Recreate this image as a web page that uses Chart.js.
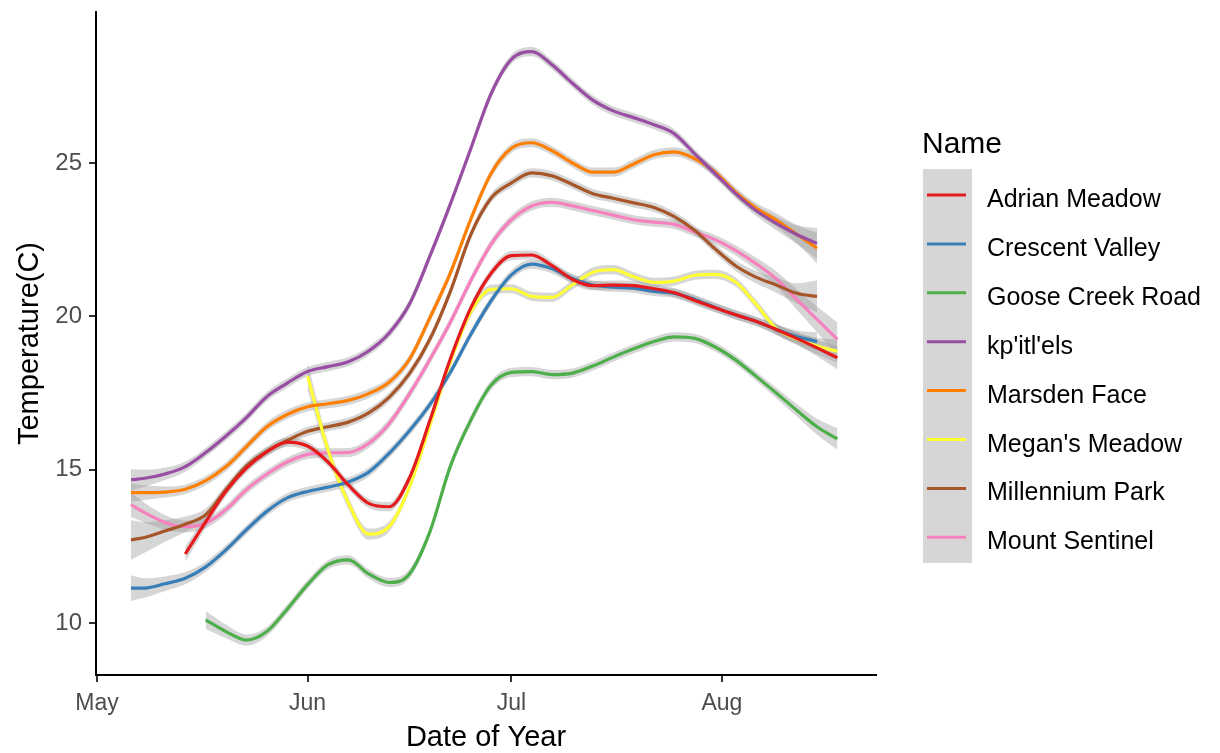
<!DOCTYPE html>
<html>
<head>
<meta charset="utf-8">
<script src="https://cdn.jsdelivr.net/npm/chart.js@4.4.1/dist/chart.umd.min.js"></script>
<style>
  html, body { margin: 0; padding: 0; background: #fff; }
  #wrap { width: 1220px; height: 753px; }
</style>
</head>
<body>
<div id="wrap"><canvas id="chart" width="1220" height="753"></canvas></div>
<script>
// x = days since May 1
const days = [5, 7, 10, 13, 16, 19,
  22, 25, 28, 31, 34, 37,
  40, 43, 46, 49, 52, 55,
  58, 61, 64, 67, 70, 73,
  76, 79, 82, 85, 88, 91,
  94, 97, 100, 103, 106, 109];

const xTickDays = [0, 31, 61, 92];
const xTickLabels = ["May", "Jun", "Jul", "Aug"];
const yTicks = [10, 15, 20, 25];

const siteNames = ["Adrian Meadow", "Crescent Valley", "Goose Creek Road", "kp'itl'els",
  "Marsden Face", "Megan's Meadow", "Millennium Park", "Mount Sentinel"];
const siteColors = ["#E41A1C", "#377EB8", "#4DAF4A", "#984EA3",
  "#FF7F00", "#FFFF33", "#A65628", "#F781BF"];

// smoothed temperature (C)
const adrianMeadow = [null, null, null, 12.25, 13.3, 14.3,
  15.05, 15.58, 15.9, 15.77, 15.25, 14.5,
  13.9, 13.79, 14.73, 16.6, 18.6, 20.26,
  21.4, 21.98, 22.0, 21.65, 21.2, 21.0,
  21.02, 21.0, 20.9, 20.77, 20.52, 20.28,
  20.05, 19.84, 19.57, 19.28, 18.97, 18.65];
const crescentValley = [11.14, 11.14, 11.28, 11.46, 11.83, 12.39,
  13.04, 13.64, 14.08, 14.29, 14.43, 14.6,
  14.92, 15.53, 16.27, 17.12, 18.17, 19.4,
  20.5, 21.35, 21.7, 21.55, 21.23, 21.02,
  20.95, 20.92, 20.81, 20.75, 20.55, 20.29,
  20.05, 19.84, 19.57, 19.34, 19.18, null];
const gooseCreekRoad = [null, null, null, null, 10.1, 9.72,
  9.44, 9.72, 10.45, 11.25, 11.9, 12.06,
  11.6, 11.32, 11.6, 12.97, 15.1, 16.6,
  17.75, 18.17, 18.2, 18.1, 18.15, 18.38,
  18.67, 18.94, 19.18, 19.33, 19.28, 19.0,
  18.58, 18.05, 17.5, 16.94, 16.4, 16.0];
const kpitlels = [14.67, 14.72, 14.86, 15.1, 15.56, 16.1,
  16.7, 17.38, 17.82, 18.2, 18.36, 18.52,
  18.87, 19.45, 20.4, 21.96, 23.65, 25.45,
  27.25, 28.38, 28.63, 28.2, 27.6, 27.05,
  26.7, 26.48, 26.25, 25.95, 25.3, 24.65,
  24.0, 23.45, 23.03, 22.67, 22.38, null];
const marsdenFace = [14.25, 14.25, 14.27, 14.36, 14.64, 15.1,
  15.75, 16.4, 16.8, 17.05, 17.15, 17.26,
  17.48, 17.85, 18.6, 19.95, 21.4, 23.15,
  24.65, 25.48, 25.66, 25.4, 25.0, 24.7,
  24.7, 24.97, 25.27, 25.36, 25.14, 24.7,
  24.05, 23.53, 23.14, 22.68, 22.22, null];
const megansMeadow = [null, null, null, null, null, null,
  null, null, null, 18.05, 15.65, 13.92,
  12.9, 13.14, 14.43, 16.44, 18.5, 20.13,
  20.88, 20.9, 20.65, 20.62, 21.03, 21.44,
  21.52, 21.29, 21.11, 21.15, 21.34, 21.37,
  21.12, 20.4, 19.6, 19.27, 19.03, 18.86];
const millenniumPark = [12.71, 12.79, 13.0, 13.22, 13.53, 14.35,
  15.12, 15.6, 15.95, 16.25, 16.4, 16.55,
  16.85, 17.36, 18.13, 19.25, 20.8, 22.65,
  23.85, 24.35, 24.68, 24.58, 24.3, 24.0,
  23.85, 23.7, 23.55, 23.25, 22.8, 22.2,
  21.65, 21.28, 21.02, 20.75, 20.65, null];
const mountSentinel = [13.86, 13.6, 13.28, 13.14, 13.25, 13.7,
  14.35, 14.85, 15.25, 15.5, 15.55, 15.56,
  15.86, 16.5, 17.47, 18.59, 19.8, 21.15,
  22.35, 23.15, 23.6, 23.72, 23.6, 23.45,
  23.3, 23.15, 23.07, 23.0, 22.75, 22.5,
  22.15, 21.72, 21.22, 20.55, 19.9, 19.25];

// half width of the grey confidence band (C)
const seAdrianMeadow = [null, null, null, 0.25, 0.2, 0.17,
  0.15, 0.15, 0.15, 0.15, 0.15, 0.15,
  0.15, 0.15, 0.15, 0.15, 0.15, 0.15,
  0.15, 0.15, 0.15, 0.15, 0.15, 0.15,
  0.15, 0.15, 0.15, 0.15, 0.15, 0.15,
  0.15, 0.15, 0.17, 0.2, 0.27, 0.38];
const seCrescentValley = [0.42, 0.32, 0.24, 0.2, 0.17, 0.15,
  0.15, 0.15, 0.15, 0.15, 0.15, 0.15,
  0.15, 0.15, 0.15, 0.15, 0.15, 0.15,
  0.15, 0.15, 0.15, 0.15, 0.15, 0.15,
  0.15, 0.15, 0.15, 0.15, 0.15, 0.15,
  0.15, 0.15, 0.17, 0.2, 0.3, null];
const seGooseCreekRoad = [null, null, null, null, 0.3, 0.22,
  0.18, 0.15, 0.15, 0.15, 0.15, 0.15,
  0.15, 0.15, 0.15, 0.15, 0.15, 0.15,
  0.15, 0.15, 0.15, 0.15, 0.15, 0.15,
  0.15, 0.15, 0.15, 0.15, 0.15, 0.15,
  0.15, 0.15, 0.17, 0.2, 0.26, 0.35];
const seKpitlels = [0.35, 0.28, 0.2, 0.17, 0.15, 0.15,
  0.15, 0.15, 0.15, 0.15, 0.15, 0.15,
  0.15, 0.15, 0.15, 0.15, 0.15, 0.15,
  0.15, 0.15, 0.15, 0.15, 0.15, 0.15,
  0.15, 0.15, 0.15, 0.15, 0.15, 0.15,
  0.15, 0.17, 0.22, 0.3, 0.5, null];
const seMarsdenFace = [0.3, 0.24, 0.18, 0.15, 0.15, 0.15,
  0.15, 0.15, 0.15, 0.15, 0.15, 0.15,
  0.15, 0.15, 0.15, 0.15, 0.15, 0.15,
  0.15, 0.15, 0.15, 0.15, 0.15, 0.15,
  0.15, 0.15, 0.15, 0.15, 0.15, 0.15,
  0.15, 0.17, 0.22, 0.3, 0.5, null];
const seMegansMeadow = [null, null, null, null, null, null,
  null, null, null, 0.45, 0.25, 0.2,
  0.18, 0.16, 0.15, 0.15, 0.15, 0.15,
  0.15, 0.15, 0.15, 0.15, 0.15, 0.15,
  0.15, 0.15, 0.15, 0.15, 0.15, 0.15,
  0.15, 0.15, 0.17, 0.2, 0.27, 0.38];
const seMillenniumPark = [0.65, 0.5, 0.35, 0.25, 0.2, 0.17,
  0.15, 0.15, 0.15, 0.15, 0.15, 0.15,
  0.15, 0.15, 0.15, 0.15, 0.15, 0.15,
  0.15, 0.15, 0.15, 0.15, 0.15, 0.15,
  0.15, 0.15, 0.15, 0.15, 0.15, 0.15,
  0.17, 0.2, 0.25, 0.33, 0.52, null];
const seMountSentinel = [0.4, 0.32, 0.24, 0.19, 0.16, 0.15,
  0.15, 0.15, 0.15, 0.15, 0.15, 0.15,
  0.15, 0.15, 0.15, 0.15, 0.15, 0.15,
  0.15, 0.15, 0.15, 0.15, 0.15, 0.15,
  0.15, 0.15, 0.15, 0.15, 0.15, 0.15,
  0.17, 0.2, 0.25, 0.33, 0.42, 0.55];

const temps = [adrianMeadow, crescentValley, gooseCreekRoad, kpitlels,
  marsdenFace, megansMeadow, millenniumPark, mountSentinel];
const bands = [seAdrianMeadow, seCrescentValley, seGooseCreekRoad, seKpitlels,
  seMarsdenFace, seMegansMeadow, seMillenniumPark, seMountSentinel];

const FONT = "'Liberation Sans', Arial, sans-serif";

function points(vals) {
  return days.map((d, i) => ({ x: d, y: vals[i] }));
}

// lines first in the list so they are drawn on top of the bands
const datasets = siteNames.map((name, k) => ({
  label: name,
  data: points(temps[k]),
  borderColor: siteColors[k],
  borderWidth: 3.2,
  pointRadius: 0,
  fill: false,
  cubicInterpolationMode: "monotone"
}));

siteNames.forEach((name, k) => {
  const hi = temps[k].map((v, i) => v === null ? null : v + bands[k][i]);
  const lo = temps[k].map((v, i) => v === null ? null : v - bands[k][i]);
  datasets.push({
    label: name + " upper",
    data: points(hi),
    borderWidth: 0,
    borderColor: "rgba(0,0,0,0)",
    backgroundColor: "rgba(153,153,153,0.4)",
    pointRadius: 0,
    fill: "+1",
    cubicInterpolationMode: "monotone"
  });
  datasets.push({
    label: name + " lower",
    data: points(lo),
    borderWidth: 0,
    borderColor: "rgba(0,0,0,0)",
    pointRadius: 0,
    fill: false,
    cubicInterpolationMode: "monotone"
  });
});

// legend on the right, ggplot style
const nameLegend = {
  id: "nameLegend",
  afterDraw(chart) {
    const ctx = chart.ctx;
    ctx.save();
    ctx.textBaseline = "alphabetic";
    ctx.textAlign = "left";
    ctx.fillStyle = "#000";
    ctx.font = "30px " + FONT;
    ctx.fillText("Name", 922, 153);

    ctx.fillStyle = "#D6D6D6";
    ctx.fillRect(923, 169, 49, 394);

    ctx.font = "25px " + FONT;
    siteNames.forEach((name, k) => {
      const y = 195 + k * 48.9;
      ctx.strokeStyle = siteColors[k];
      ctx.lineWidth = 3;
      ctx.beginPath();
      ctx.moveTo(927, y);
      ctx.lineTo(966, y);
      ctx.stroke();
      ctx.fillStyle = "#000";
      ctx.fillText(name, 987, y + 12);
    });
    ctx.restore();
  }
};

new Chart(document.getElementById("chart"), {
  type: "line",
  data: { datasets },
  plugins: [nameLegend],
  options: {
    responsive: false,
    animation: false,
    layout: { padding: { top: 12, right: 344, left: 0, bottom: 0 } },
    plugins: {
      legend: { display: false },
      tooltip: { enabled: false },
      filler: { drawTime: "beforeDatasetsDraw" }
    },
    scales: {
      x: {
        type: "linear",
        min: -0.147,
        max: 114.68,
        afterBuildTicks: (scale) => { scale.ticks = xTickDays.map(v => ({ value: v })); },
        afterFit: (scale) => { scale.height = 78; },
        grid: { drawOnChartArea: false, drawTicks: true, tickLength: 7, color: "#333", lineWidth: 2 },
        border: { display: true, color: "#000", width: 2 },
        ticks: {
          autoSkip: false,
          maxRotation: 0,
          padding: 8,
          color: "#4D4D4D",
          font: { family: FONT, size: 23 },
          callback: (v, i) => xTickLabels[i]
        },
        title: {
          display: true,
          text: "Date of Year",
          color: "#000",
          font: { family: FONT, size: 29, lineHeight: 1 },
          padding: { top: 0, bottom: 1 }
        }
      },
      y: {
        min: 8.304,
        max: 29.924,
        afterBuildTicks: (scale) => { scale.ticks = yTicks.map(v => ({ value: v })); },
        afterFit: (scale) => {
          scale.width = 96;
          scale.paddingTop = 0;
          scale.paddingBottom = 0;
        },
        grid: { drawOnChartArea: false, drawTicks: true, tickLength: 7, color: "#333", lineWidth: 2 },
        border: { display: true, color: "#000", width: 2 },
        ticks: {
          padding: 7,
          color: "#4D4D4D",
          font: { family: FONT, size: 24, lineHeight: 0.5 },
          callback: (v) => String(v)
        },
        title: {
          display: true,
          text: "Temperature(C)",
          color: "#000",
          font: { family: FONT, size: 29, lineHeight: 1 },
          padding: { top: 15, bottom: 0 }
        }
      }
    }
  }
});
</script>
</body>
</html>
